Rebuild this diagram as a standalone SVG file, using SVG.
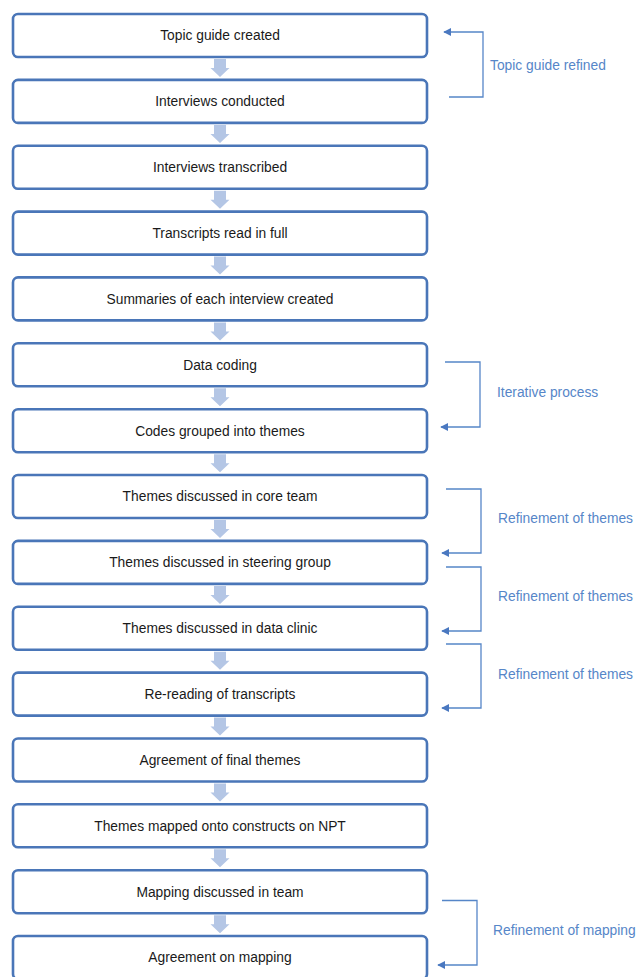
<svg xmlns="http://www.w3.org/2000/svg" width="637" height="977" viewBox="0 0 637 977">
<defs>
<style>
.box{fill:#ffffff;stroke:#4A76B8;stroke-width:2.6}
.lbl{font-family:"Liberation Sans",Arial,sans-serif;font-size:13.8px;fill:#1a1a1a;text-anchor:middle}
.side{font-family:"Liberation Sans",Arial,sans-serif;font-size:13.8px;fill:#5686C8}
.conn{fill:none;stroke:#5686C8;stroke-width:1.3}
.down{fill:#B4C6E5}
</style>
<marker id="ah" viewBox="0 0 10 10" refX="9" refY="5" markerWidth="8" markerHeight="8" markerUnits="userSpaceOnUse" orient="auto">
<path d="M0,0 L10,5 L0,10 Z" fill="#4A78C0"/>
</marker>
</defs>
<rect width="637" height="977" fill="#ffffff"/>

<g id="flow-arrows">
<path class="down" d="M214,59 H226 V68 H229.5 L220,77 L210.5,68 H214 Z"/>
<path class="down" d="M214,124.9 H226 V133.9 H229.5 L220,142.9 L210.5,133.9 H214 Z"/>
<path class="down" d="M214,190.7 H226 V199.7 H229.5 L220,208.7 L210.5,199.7 H214 Z"/>
<path class="down" d="M214,256.6 H226 V265.6 H229.5 L220,274.6 L210.5,265.6 H214 Z"/>
<path class="down" d="M214,322.4 H226 V331.4 H229.5 L220,340.4 L210.5,331.4 H214 Z"/>
<path class="down" d="M214,388.3 H226 V397.3 H229.5 L220,406.3 L210.5,397.3 H214 Z"/>
<path class="down" d="M214,454.2 H226 V463.2 H229.5 L220,472.2 L210.5,463.2 H214 Z"/>
<path class="down" d="M214,520 H226 V529 H229.5 L220,538 L210.5,529 H214 Z"/>
<path class="down" d="M214,585.9 H226 V594.9 H229.5 L220,603.9 L210.5,594.9 H214 Z"/>
<path class="down" d="M214,651.7 H226 V660.7 H229.5 L220,669.7 L210.5,660.7 H214 Z"/>
<path class="down" d="M214,717.6 H226 V726.6 H229.5 L220,735.6 L210.5,726.6 H214 Z"/>
<path class="down" d="M214,783.5 H226 V792.5 H229.5 L220,801.5 L210.5,792.5 H214 Z"/>
<path class="down" d="M214,849.3 H226 V858.3 H229.5 L220,867.3 L210.5,858.3 H214 Z"/>
<path class="down" d="M214,915.2 H226 V924.2 H229.5 L220,933.2 L210.5,924.2 H214 Z"/>
</g>

<g id="n1"><rect class="box" x="13" y="14" width="414" height="43" rx="5"/><text class="lbl" x="220" y="40.3">Topic guide created</text></g>
<g id="n2"><rect class="box" x="13" y="79.9" width="414" height="43" rx="5"/><text class="lbl" x="220" y="106.2">Interviews conducted</text></g>
<g id="n3"><rect class="box" x="13" y="145.7" width="414" height="43" rx="5"/><text class="lbl" x="220" y="172">Interviews transcribed</text></g>
<g id="n4"><rect class="box" x="13" y="211.6" width="414" height="43" rx="5"/><text class="lbl" x="220" y="237.9">Transcripts read in full</text></g>
<g id="n5"><rect class="box" x="13" y="277.4" width="414" height="43" rx="5"/><text class="lbl" x="220" y="303.7">Summaries of each interview created</text></g>
<g id="n6"><rect class="box" x="13" y="343.3" width="414" height="43" rx="5"/><text class="lbl" x="220" y="369.6">Data coding</text></g>
<g id="n7"><rect class="box" x="13" y="409.2" width="414" height="43" rx="5"/><text class="lbl" x="220" y="435.5">Codes grouped into themes</text></g>
<g id="n8"><rect class="box" x="13" y="475" width="414" height="43" rx="5"/><text class="lbl" x="220" y="501.3">Themes discussed in core team</text></g>
<g id="n9"><rect class="box" x="13" y="540.9" width="414" height="43" rx="5"/><text class="lbl" x="220" y="567.2">Themes discussed in steering group</text></g>
<g id="n10"><rect class="box" x="13" y="606.7" width="414" height="43" rx="5"/><text class="lbl" x="220" y="633">Themes discussed in data clinic</text></g>
<g id="n11"><rect class="box" x="13" y="672.6" width="414" height="43" rx="5"/><text class="lbl" x="220" y="698.9">Re-reading of transcripts</text></g>
<g id="n12"><rect class="box" x="13" y="738.5" width="414" height="43" rx="5"/><text class="lbl" x="220" y="764.8">Agreement of final themes</text></g>
<g id="n13"><rect class="box" x="13" y="804.3" width="414" height="43" rx="5"/><text class="lbl" x="220" y="830.6">Themes mapped onto constructs on NPT</text></g>
<g id="n14"><rect class="box" x="13" y="870.2" width="414" height="43" rx="5"/><text class="lbl" x="220" y="896.5">Mapping discussed in team</text></g>
<g id="n15"><rect class="box" x="13" y="936" width="414" height="43" rx="5"/><text class="lbl" x="220" y="962.3">Agreement on mapping</text></g>

<g id="connectors">
<path class="conn" d="M449,97 H483 V32 H444" marker-end="url(#ah)"/>
<path class="conn" d="M445,362 H480 V427 H441" marker-end="url(#ah)"/>
<path class="conn" d="M446,489 H481 V553 H442" marker-end="url(#ah)"/>
<path class="conn" d="M446,567 H481 V631 H442" marker-end="url(#ah)"/>
<path class="conn" d="M446,644 H481 V708 H442" marker-end="url(#ah)"/>
<path class="conn" d="M442,900.5 H477 V965 H438" marker-end="url(#ah)"/>
</g>

<g id="side-labels">
<text class="side" x="490" y="70">Topic guide refined</text>
<text class="side" x="497" y="397">Iterative process</text>
<text class="side" x="498" y="523">Refinement of themes</text>
<text class="side" x="498" y="601">Refinement of themes</text>
<text class="side" x="498" y="679">Refinement of themes</text>
<text class="side" x="493" y="935">Refinement of mapping</text>
</g>
</svg>
